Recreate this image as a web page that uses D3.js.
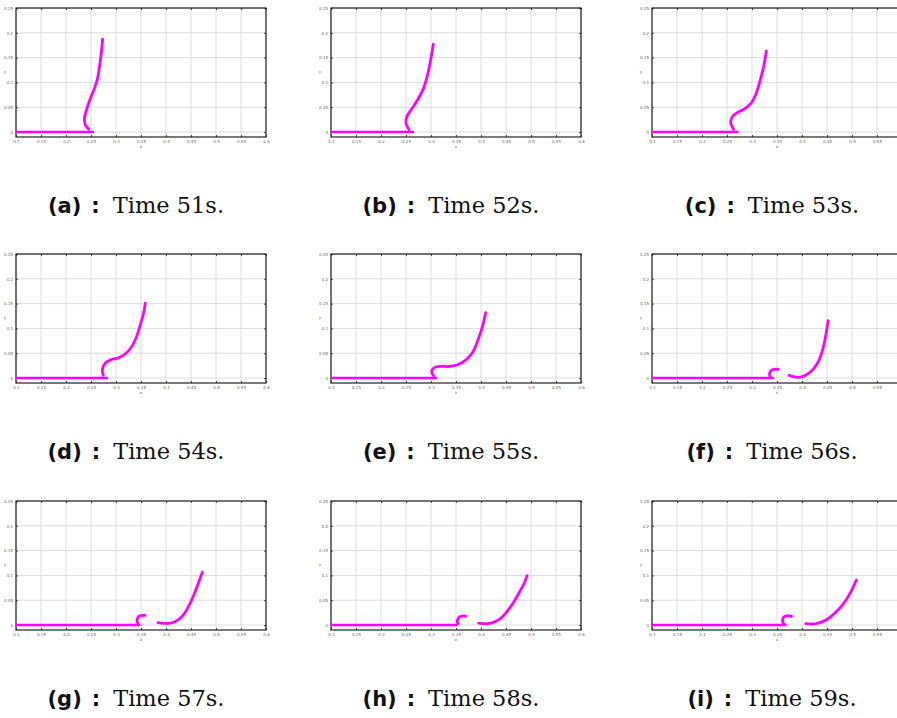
<!DOCTYPE html>
<html>
<head>
<meta charset="utf-8" />
<title>Film front, times 51-59 s</title>
<script src="https://d3js.org/d3.v7.min.js"></script>
<style>
  body { margin: 0px; background: white; }
  .tick-label { font-family: "DejaVu Sans", sans-serif; font-size: 4px; fill: #666; }
  .axis-name { font-family: "DejaVu Sans", sans-serif; font-size: 4px; fill: #666; }
  .cap-letter { font-family: "DejaVu Sans", sans-serif; font-weight: bold; font-size: 21px; }
  .cap-text { font-family: "DejaVu Serif", serif; font-size: 22.5px; }
</style>
</head>
<body>
<svg id="chart"></svg>
<script>

var width = 897;
var height = 718;

// panel labels and times
var letters = ["a", "b", "c", "d", "e", "f", "g", "h", "i"];
var times = [51, 52, 53, 54, 55, 56, 57, 58, 59];

var xTicks = [0.1, 0.15, 0.2, 0.25, 0.3, 0.35, 0.4, 0.45, 0.5, 0.55, 0.6];
var xTickLabels = ["0.1", "0.15", "0.2", "0.25", "0.3", "0.35", "0.4", "0.45", "0.5", "0.55", "0.6"];
var yTicks = [0, 0.05, 0.1, 0.15, 0.2, 0.25];
var yTickLabels = ["0", "0.05", "0.1", "0.15", "0.2", "0.25"];

// flat film on the wall: from x = 0.1 to filmEnd, y = 0
var filmEnd = [0.256, 0.266, 0.273, 0.284, 0.312, 0.344, 0.349, 0.353, 0.369];

// rising front, [x, y]
var fronts = [
    [[0.2456, 0.0054], [0.239, 0.014], [0.2368, 0.0276], [0.241, 0.0444], [0.2476, 0.0646], [0.2557, 0.0848], [0.2624, 0.105], [0.267, 0.132], [0.2705, 0.159], [0.2732, 0.187]],
    [[0.2563, 0.0047], [0.2497, 0.019], [0.2523, 0.0326], [0.261, 0.046], [0.274, 0.066], [0.2854, 0.089], [0.294, 0.119], [0.3, 0.149], [0.3046, 0.177]],
    [[0.2633, 0.0053], [0.2573, 0.0187], [0.2607, 0.0307], [0.272, 0.04], [0.2853, 0.0467], [0.2987, 0.0587], [0.3087, 0.0787], [0.3167, 0.1053], [0.3233, 0.132], [0.3287, 0.1633]],
    [[0.2747, 0.0053], [0.2727, 0.0173], [0.2793, 0.0307], [0.2893, 0.0367], [0.3027, 0.04], [0.316, 0.0467], [0.3293, 0.06], [0.3393, 0.0787], [0.348, 0.1053], [0.3547, 0.1287], [0.3587, 0.1507]],
    [[0.3053, 0.004], [0.3013, 0.0133], [0.3053, 0.02], [0.3167, 0.0233], [0.3367, 0.0233], [0.3533, 0.0267], [0.37, 0.0367], [0.3833, 0.052], [0.3947, 0.0787], [0.4033, 0.1053], [0.4093, 0.132]],
    [[0.3743, 0.0053], [0.3823, 0.0027], [0.3923, 0.0013], [0.4023, 0.0033], [0.4123, 0.0087], [0.4222, 0.0174], [0.4322, 0.032], [0.4409, 0.0555], [0.4469, 0.0822], [0.4522, 0.1157]],
    [[0.384, 0.0047], [0.396, 0.0033], [0.4093, 0.004], [0.4227, 0.0093], [0.436, 0.022], [0.448, 0.0433], [0.4593, 0.07], [0.468, 0.0933], [0.4727, 0.1067]],
    [[0.3953, 0.004], [0.4067, 0.0027], [0.42, 0.004], [0.4367, 0.0113], [0.45, 0.0247], [0.4633, 0.0427], [0.4767, 0.066], [0.4867, 0.0847], [0.492, 0.0993]],
    [[0.4076, 0.0027], [0.419, 0.002], [0.4322, 0.004], [0.4489, 0.0107], [0.4655, 0.024], [0.4808, 0.04], [0.4955, 0.0627], [0.5088, 0.0907]]
];

// small hook left behind after pinch-off (panels f-i)
var hooks = [
    null, null, null, null, null,
    [[0.3363, 0.0013], [0.335, 0.0087], [0.3377, 0.0147], [0.3437, 0.0174], [0.353, 0.0174]],
    [[0.344, 0.002], [0.342, 0.01], [0.346, 0.0173], [0.3527, 0.0193], [0.358, 0.0193]],
    [[0.354, 0.0027], [0.3527, 0.0093], [0.3567, 0.016], [0.362, 0.018], [0.37, 0.018]],
    [[0.3636, 0.0013], [0.361, 0.0093], [0.3636, 0.016], [0.3703, 0.0187], [0.379, 0.0173]]
];

var colLeft = [16, 331, 652];
var rowTop = [8, 254, 501];
var plotW = 250;
var plotH = 129;
var magenta = "#ff00ff";

var svg = d3.select("#chart")
    .attr("width", width)
    .attr("height", height);

svg.append("rect").attr("width", width).attr("height", height).attr("fill", "white");

var x = d3.scaleLinear().domain([0.1, 0.6]).range([0, plotW]);
var y = d3.scaleLinear().domain([-0.01, 0.25]).range([plotH, 0]);

var line = d3.line()
    .x(function(d) { return x(d[0]); })
    .y(function(d) { return y(d[1]); })
    .curve(d3.curveCatmullRom);

letters.forEach(function(letter, i) {
    var col = i % 3;
    var row = Math.floor(i / 3);
    var left = colLeft[col];
    var g = svg.append("g")
        .attr("transform", "translate(" + left + "," + rowTop[row] + ")");

    // grid
    g.selectAll(".gx").data(xTicks).enter().append("line")
        .attr("x1", function(d) { return x(d); }).attr("x2", function(d) { return x(d); })
        .attr("y1", 0).attr("y2", plotH)
        .attr("stroke", "#d9d9d9").attr("stroke-width", 0.9);
    g.selectAll(".gy").data(yTicks).enter().append("line")
        .attr("y1", function(d) { return y(d); }).attr("y2", function(d) { return y(d); })
        .attr("x1", 0).attr("x2", plotW)
        .attr("stroke", "#d9d9d9").attr("stroke-width", 0.9);

    // axes, ticks inward, then the box
    // labels past the page edge are not shown (the right column is cut off)
    var xAxis = d3.axisBottom(x).tickValues(xTicks).tickSize(-2).tickPadding(3)
        .tickFormat(function(d, k) { return left + x(d) + 6 > width ? "" : xTickLabels[k]; });
    var xa = g.append("g").attr("transform", "translate(0," + plotH + ")").call(xAxis);
    var xTop = g.append("g").call(d3.axisTop(x).tickValues(xTicks).tickSize(-2).tickFormat(""));
    var yAxis = d3.axisLeft(y).tickValues(yTicks).tickSize(-2).tickPadding(3)
        .tickFormat(function(d, k) { return yTickLabels[k]; });
    var ya = g.append("g").call(yAxis);
    var yRight = g.append("g").attr("transform", "translate(" + plotW + ",0)")
        .call(d3.axisRight(y).tickValues(yTicks).tickSize(-2).tickFormat(""));

    [xa, xTop, ya, yRight].forEach(function(a) {
        a.select(".domain").remove();
        a.selectAll(".tick line").attr("stroke", "#222").attr("stroke-width", 0.8);
        a.selectAll(".tick text").attr("class", "tick-label").attr("font-size", null).attr("font-family", null).attr("fill", null);
    });

    g.append("rect")
        .attr("width", plotW).attr("height", plotH)
        .attr("fill", "none").attr("stroke", "#222").attr("stroke-width", 1.2);

    g.append("text").attr("class", "axis-name")
        .attr("x", plotW / 2).attr("y", plotH + 11).attr("text-anchor", "middle").text("x");
    g.append("text").attr("class", "axis-name")
        .attr("x", -11).attr("y", plotH / 2).attr("text-anchor", "middle").text("y");

    // film + front
    var curves = g.append("g");
    curves.append("path")
        .attr("d", line([[0.1, 0], [filmEnd[i], 0]]))
        .attr("fill", "none").attr("stroke", magenta).attr("stroke-width", 2.6);
    curves.append("path")
        .attr("d", line(fronts[i]))
        .attr("fill", "none").attr("stroke", magenta).attr("stroke-width", 2.8)
        .attr("stroke-linecap", "round").attr("stroke-linejoin", "round");
    if (hooks[i]) {
        curves.append("path")
            .attr("d", line(hooks[i]))
            .attr("fill", "none").attr("stroke", magenta).attr("stroke-width", 2.8)
            .attr("stroke-linecap", "round");
    }

    // caption
    var cap = g.append("text")
        .attr("x", plotW / 2 - 5).attr("y", 205)
        .attr("text-anchor", "middle")
        .attr("fill", "#111")
        .attr("xml:space", "preserve");
    cap.append("tspan").attr("class", "cap-letter").text("(" + letter + ")");
    cap.append("tspan").attr("class", "cap-letter").attr("dx", 10).text(":");
    cap.append("tspan").attr("class", "cap-text").attr("dx", 13).text("Time " + times[i] + "s.");
});

</script>
</body>
</html>
